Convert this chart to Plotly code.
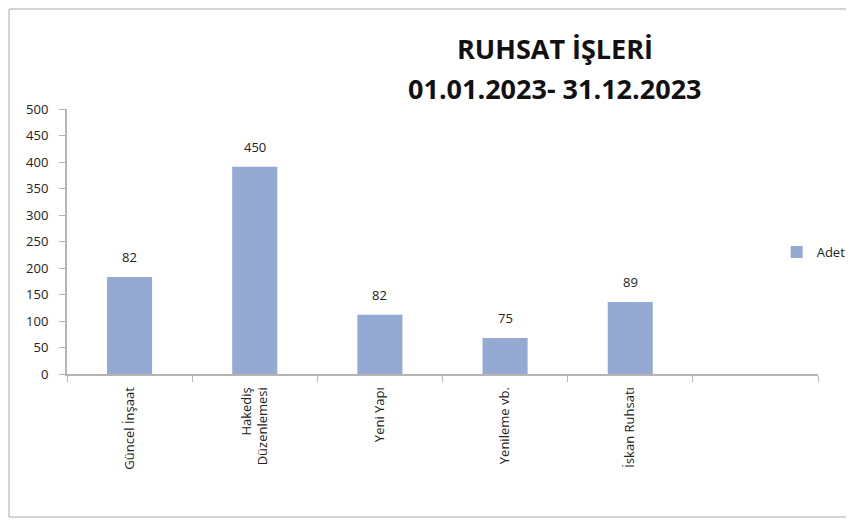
import plotly.graph_objects as go

kategoriler = ["Güncel İnşaat", "Hakediş<br>Düzenlemesi", "Yeni Yapı",
               "Yenileme vb.", "İskan Ruhsatı", " "]
yukseklik = [183, 391, 112, 68, 136, None]
etiketler = ["82", "450", "82", "75", "89", ""]
seri_adi = "Adet"
y_tickler = [0, 50, 100, 150, 200, 250, 300, 350, 400, 450, 500]
baslik = ["RUHSAT İŞLERİ", "01.01.2023- 31.12.2023"]

RENK_BAR = "#94aad3"
RENK_EKSEN = "#b4b4b4"
FONT = "Open Sans, Lato, Arial"

# sayfa gövdesi 8px kaydırıyor; kenar boşlukları buna göre
SOL, UST, GEN, YUK = 59, 101, 751, 265

fig = go.Figure(go.Bar(
    x=kategoriler, y=yukseklik, name=seri_adi,
    marker_color=RENK_BAR, marker_line_width=0, width=0.36,
    showlegend=True,
))

for kat, h, et in zip(kategoriler, yukseklik, etiketler):
    if h is None:
        continue
    fig.add_annotation(x=kat, y=h, text=et, showarrow=False, yanchor="bottom",
                       yshift=9, font=dict(family=FONT, size=13, color="#222"))

for satir, yy in zip(baslik, [40, 80]):
    fig.add_annotation(xref="paper", yref="paper",
                       x=(547 - SOL) / GEN, y=(UST + YUK - yy) / YUK,
                       text=f"<b>{satir}</b>", showarrow=False,
                       xanchor="center", yanchor="middle",
                       font=dict(family=FONT, size=27, color="#111"))

# dış çerçeve
fig.add_shape(type="rect", xref="paper", yref="paper",
              x0=(1 - SOL) / GEN, x1=(842 - SOL) / GEN,
              y0=(UST + YUK - 509) / YUK, y1=(UST + YUK - 1) / YUK,
              line=dict(color="#a8a8a8", width=1))

fig.update_layout(
    width=854, height=524,
    margin=dict(l=SOL, r=854 - SOL - GEN, t=UST, b=524 - UST - YUK,
                autoexpand=False),
    plot_bgcolor="white", paper_bgcolor="white",
    font=dict(family=FONT, size=13, color="#222"),
    legend=dict(x=0.945, xanchor="left", y=0.46, yanchor="middle",
                bgcolor="rgba(0,0,0,0)", font=dict(size=13),
                itemwidth=30),
)
fig.update_xaxes(
    showline=True, linecolor=RENK_EKSEN, linewidth=2,
    ticks="outside", ticklen=6, tickcolor=RENK_EKSEN, tickson="boundaries",
    tickangle=-90, showgrid=False, tickfont=dict(size=13),
    ticklabelstandoff=6,
)
fig.update_yaxes(
    range=[0, 500], tickvals=y_tickler, showline=True, linecolor=RENK_EKSEN,
    linewidth=2, ticks="outside", ticklen=6, tickcolor=RENK_EKSEN,
    ticklabelstandoff=8,
    showgrid=False, zeroline=False, tickfont=dict(size=13),
)

fig.write_html("out.html")
